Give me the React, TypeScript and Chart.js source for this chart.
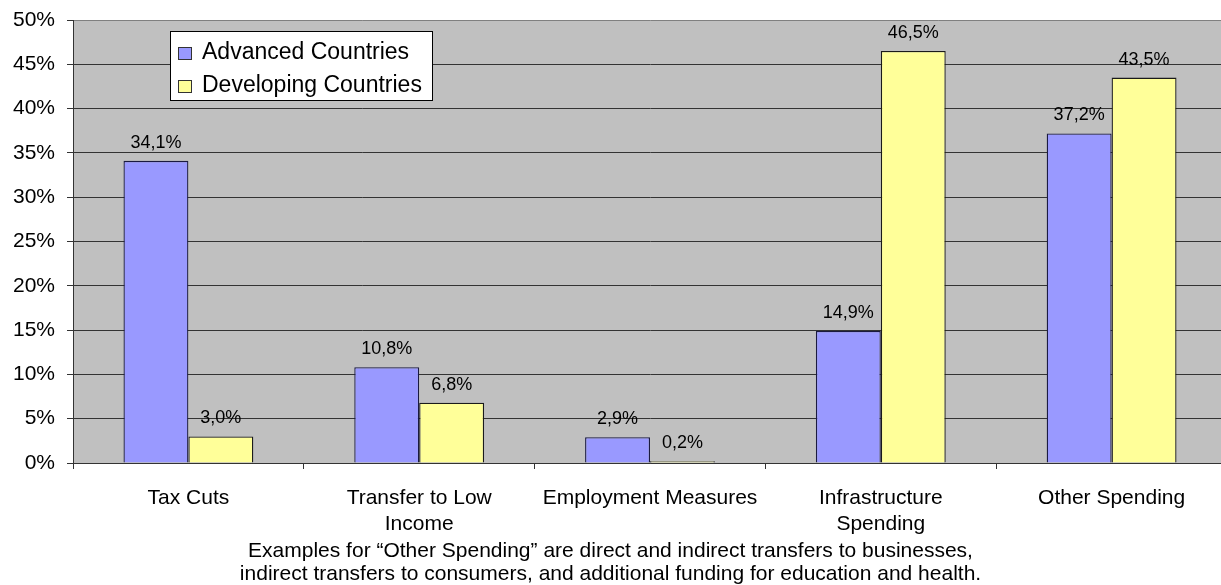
import { useEffect, useRef } from "react";
import { Chart, registerables } from "chart.js";

Chart.register(...registerables);

const categories: string[][] = [
  ["Tax Cuts"],
  ["Transfer to Low", "Income"],
  ["Employment Measures"],
  ["Infrastructure", "Spending"],
  ["Other Spending"],
];
const seriesNames = ["Advanced Countries", "Developing Countries"];
const advancedCountries = [34.1, 10.8, 2.9, 14.9, 37.2];
const developingCountries = [3.0, 6.8, 0.2, 46.5, 43.5];
const yTickValues = [0, 5, 10, 15, 20, 25, 30, 35, 40, 45, 50];
const footerLines = [
  "Examples for \u201COther Spending\u201D are direct and indirect transfers to businesses,",
  "indirect transfers to consumers, and additional funding for education and health.",
];

const FONT = '"Liberation Sans", Arial, Helvetica, sans-serif';
const PAGE_W = 1221;
const PAGE_H = 585;
const CANVAS_W = 1232;

export default function App() {
  const ref = useRef<HTMLCanvasElement | null>(null);

  useEffect(() => {
    if (!ref.current) return;

    const plotBg = {
      id: "plotBg",
      beforeDraw(chart: any) {
        const { ctx, chartArea: a } = chart;
        ctx.save();
        ctx.fillStyle = "#C0C0C0";
        ctx.fillRect(a.left, a.top, a.right - a.left, a.bottom - a.top);
        ctx.restore();
      },
    };

    const valueLabels = {
      id: "valueLabels",
      afterDatasetsDraw(chart: any) {
        const { ctx } = chart;
        ctx.save();
        ctx.font = `18px ${FONT}`;
        ctx.fillStyle = "#000";
        ctx.textAlign = "center";
        ctx.textBaseline = "alphabetic";
        chart.data.datasets.forEach((ds: any, di: number) => {
          const meta = chart.getDatasetMeta(di);
          meta.data.forEach((bar: any, i: number) => {
            const v = ds.data[i] as number;
            const txt = v.toFixed(1).replace(".", ",") + "%";
            ctx.fillText(txt, bar.x, bar.y - 13);
          });
        });
        ctx.restore();
      },
    };

    const legendBox = {
      id: "legendBox",
      afterDraw(chart: any) {
        const { ctx, chartArea: a } = chart;
        const x = a.left + 97;
        const y = a.top + 11;
        const w = 262;
        const h = 69;
        ctx.save();
        ctx.fillStyle = "#fff";
        ctx.fillRect(x, y, w, h);
        ctx.strokeStyle = "#000";
        ctx.lineWidth = 1;
        ctx.strokeRect(x + 0.5, y + 0.5, w, h);
        ctx.font = `23px ${FONT}`;
        ctx.textAlign = "left";
        ctx.textBaseline = "alphabetic";
        chart.data.datasets.forEach((ds: any, i: number) => {
          const base = y + 28 + i * 33;
          ctx.fillStyle = ds.backgroundColor;
          ctx.fillRect(x + 8, base - 12, 13, 12);
          ctx.strokeStyle = "#333";
          ctx.strokeRect(x + 8.5, base - 11.5, 13, 12);
          ctx.fillStyle = "#000";
          ctx.fillText(ds.label, x + 32, base);
        });
        ctx.restore();
      },
    };

    const footer = {
      id: "footer",
      afterDraw(chart: any) {
        const { ctx } = chart;
        ctx.save();
        ctx.font = `21px ${FONT}`;
        ctx.fillStyle = "#000";
        ctx.textAlign = "center";
        ctx.textBaseline = "alphabetic";
        footerLines.forEach((line, i) => {
          ctx.fillText(line, PAGE_W / 2, 557 + i * 23);
        });
        ctx.restore();
      },
    };

    const chart = new Chart(ref.current, {
      type: "bar",
      data: {
        labels: categories,
        datasets: [
          {
            label: seriesNames[0],
            data: advancedCountries,
            backgroundColor: "#9999FF",
            borderColor: "#1a1a40",
            borderWidth: 1.3,
            categoryPercentage: 0.5625,
            barPercentage: 1,
          },
          {
            label: seriesNames[1],
            data: developingCountries,
            backgroundColor: "#FFFF99",
            borderColor: "#1a1a1a",
            borderWidth: 1.3,
            categoryPercentage: 0.5625,
            barPercentage: 1,
          },
        ],
      },
      options: {
        responsive: false,
        animation: false,
        events: [],
        layout: { padding: { left: 0, right: 5, top: 20, bottom: 0 } },
        plugins: {
          legend: { display: false },
          tooltip: { enabled: false },
          title: { display: false },
        },
        scales: {
          x: {
            offset: true,
            grid: {
              display: true,
              drawOnChartArea: false,
              drawTicks: true,
              tickLength: 6,
              color: "#333",
            },
            border: { display: true, color: "#333", width: 1 },
            ticks: {
              color: "#000",
              padding: 16,
              maxRotation: 0,
              autoSkip: false,
              font: { family: FONT, size: 21, lineHeight: 1.24 },
            },
            afterFit(scale: any) {
              scale.height = 122;
              scale.paddingLeft = 0;
              scale.paddingRight = 0;
            },
          },
          y: {
            min: 0,
            max: 50,
            afterBuildTicks(scale: any) {
              scale.ticks = yTickValues.map((v) => ({ value: v }));
            },
            grid: {
              color: (c: any) => (c.tick && c.tick.value === 50 ? "#808080" : "#333"),
              tickColor: "#333",
              tickLength: 6,
              lineWidth: 1,
            },
            border: { display: true, color: "#333", width: 1 },
            ticks: {
              color: "#000",
              padding: 12,
              font: { family: FONT, size: 21 },
              callback: (v: any) => `${v}%`,
            },
            afterFit(scale: any) {
              scale.width = 73;
              scale.paddingTop = 0;
              scale.paddingBottom = 0;
            },
          },
        },
      },
      plugins: [plotBg, valueLabels, legendBox, footer],
    });

    return () => chart.destroy();
  }, []);

  return (
    <div
      style={{
        position: "absolute",
        left: 0,
        top: 0,
        width: PAGE_W,
        height: PAGE_H,
        overflow: "hidden",
        background: "#fff",
      }}
    >
      <canvas
        ref={ref}
        width={CANVAS_W}
        height={PAGE_H}
        style={{ display: "block", width: CANVAS_W, height: PAGE_H }}
      />
    </div>
  );
}
